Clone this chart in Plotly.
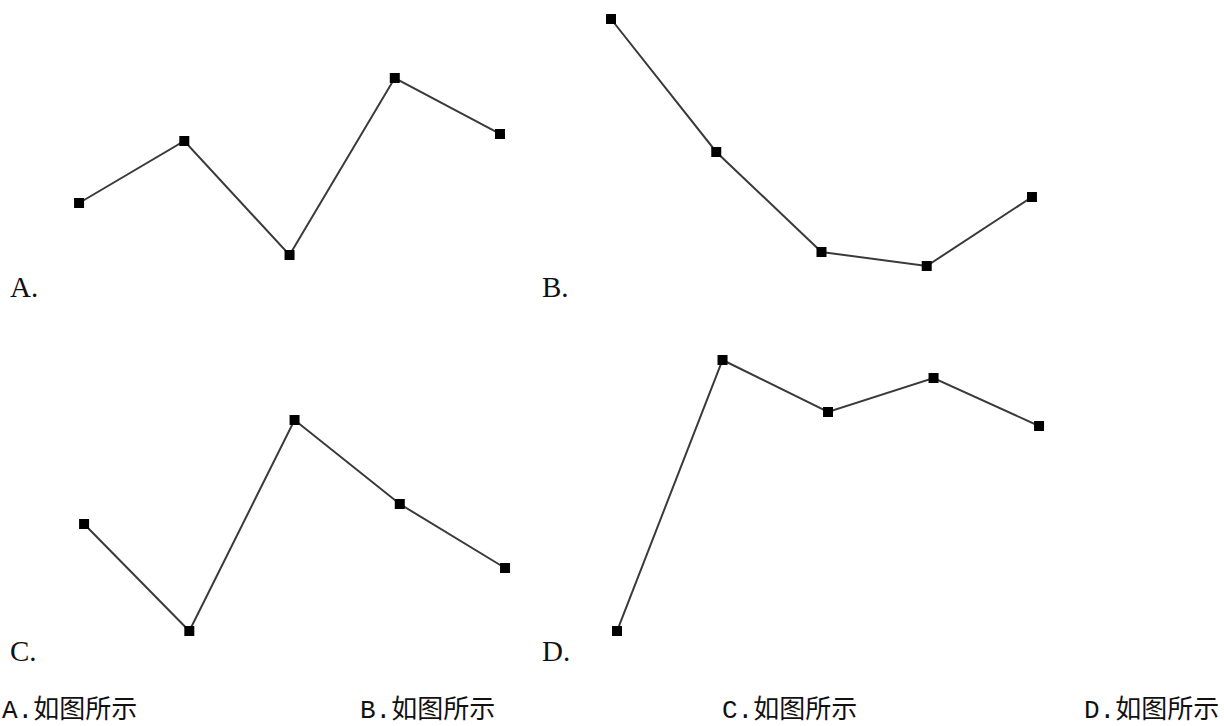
import plotly.graph_objects as go

# 五个点的横坐标（各小图相同）
x_idx = [1, 2, 3, 4, 5]

# 各小图的纵向数值
a_vals = [97, 159, 45, 222, 166]
b_vals = [281, 148, 48, 34, 103]
c_vals = [146, 39, 250, 166, 102]
d_vals = [39, 310, 258, 292, 244]

panel_labels = ["A.", "B.", "C.", "D."]
option_labels = ["A.如图所示", "B.如图所示", "C.如图所示", "D.如图所示"]

W, H = 1224, 726
LABEL_FONT = "Liberation Serif, Noto Sans CJK SC, serif"
OPT_FONT = "Liberation Mono, Noto Sans CJK SC, sans-serif"

fig = go.Figure()

panels = [
    # values, x domain, y domain, y range
    (a_vals, [0.0216, 0.4515], [0.5868, 1.0], [0, 300]),
    (b_vals, [0.4562, 0.8861], [0.5868, 1.0], [0, 300]),
    (c_vals, [0.0257, 0.4556], [0.0771, 0.5317], [0, 330]),
    (d_vals, [0.4610, 0.8920], [0.0771, 0.5317], [0, 330]),
]

layout_axes = {}
for i, (vals, xd, yd, yr) in enumerate(panels, start=1):
    sfx = "" if i == 1 else str(i)
    fig.add_trace(go.Scatter(
        x=x_idx, y=vals, mode="lines+markers",
        line=dict(color="#3a3a3a", width=2),
        marker=dict(symbol="square", size=10, color="black"),
        xaxis="x" + sfx, yaxis="y" + sfx, showlegend=False, cliponaxis=False,
    ))
    layout_axes["xaxis" + sfx] = dict(domain=xd, range=[0.5, 5.5], visible=False,
                                      anchor="y" + sfx)
    layout_axes["yaxis" + sfx] = dict(domain=yd, range=yr, visible=False,
                                      anchor="x" + sfx)

fig.update_layout(**layout_axes)

# 小图标签
label_pos = [(8, 287), (540, 287), (8, 651), (540, 651)]
for txt, (px_, py_) in zip(panel_labels, label_pos):
    fig.add_annotation(text=txt, x=px_ / W, y=1 - py_ / H, xref="paper", yref="paper",
                       xanchor="left", yanchor="middle", showarrow=False,
                       font=dict(family=LABEL_FONT, size=29, color="#111"))

# 选项文字
opt_x = [0, 358, 720, 1082]
for txt, ox in zip(option_labels, opt_x):
    fig.add_annotation(text=txt, x=ox / W, y=1 - 710 / H, xref="paper", yref="paper",
                       xanchor="left", yanchor="middle", showarrow=False,
                       font=dict(family=OPT_FONT, size=26, color="#111"))

fig.update_layout(
    width=W, height=H,
    margin=dict(l=0, r=0, t=0, b=0),
    plot_bgcolor="white", paper_bgcolor="white",
)

fig.write_html("out.html", config={"displayModeBar": False},
               post_script="document.body.style.margin='0';")
